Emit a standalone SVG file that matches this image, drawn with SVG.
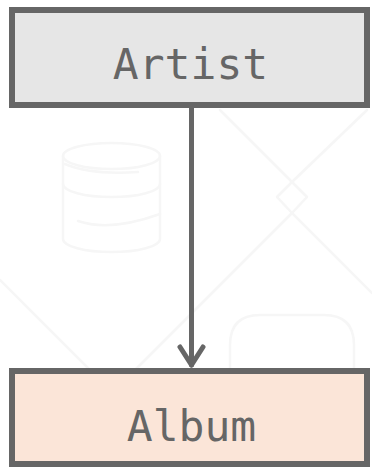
<svg xmlns="http://www.w3.org/2000/svg" width="372" height="467" viewBox="0 0 372 467">
  <style>
    .bg { fill: none; stroke: #f6f6f6; stroke-width: 2.5; stroke-linecap: round; stroke-linejoin: round; }
    .box { stroke: #666666; stroke-width: 6; }
    .label { font-family: "DejaVu Sans Mono", "Liberation Mono", monospace; font-size: 43px; fill: #666666; text-anchor: middle; }
    .edge { fill: none; stroke: #666666; stroke-width: 5; stroke-linecap: round; stroke-linejoin: round; }
  </style>
  <rect width="372" height="467" fill="#ffffff"/>

  <!-- faint background decoration -->
  <g id="backdrop">
    <!-- database cylinder -->
    <ellipse class="bg" cx="111.5" cy="156" rx="48.5" ry="13"/>
    <path class="bg" d="M63 156 V239 A48.5 13 0 0 0 160 239 V156"/>
    <path class="bg" d="M63 184 A48.5 13 0 0 0 160 184"/>
    <path class="bg" d="M65 164 Q90 175 138 172"/>
    <path class="bg" d="M78 221 Q110 232 160 214"/>
    <!-- crossing lines with small diamond -->
    <path class="bg" d="M220 110 L292 182 L367 110"/>
    <path class="bg" d="M292 182 L307 197 L292 213 L277 197 Z"/>
    <path class="bg" d="M292 213 L110 395"/>
    <path class="bg" d="M292 213 L372 293"/>
    <path class="bg" d="M0 280 L100 380"/>
    <!-- rounded panel -->
    <path class="bg" d="M230 372 V345 Q230 315 260 315 H324 Q354 315 354 345 V372"/>
  </g>

  <g id="connectors">
    <line class="edge" x1="191.5" y1="108" x2="191.5" y2="365"/>
    <polyline class="edge" points="180,347 191.5,365 203,347"/>
  </g>

  <g id="artist">
    <rect class="box" x="12" y="10" width="355" height="95" fill="#e6e6e6"/>
    <text class="label" x="190.5" y="79">Artist</text>
  </g>

  <g id="album">
    <rect class="box" x="12" y="371" width="355" height="93" fill="#fbe5d8"/>
    <text class="label" x="191.5" y="441">Album</text>
  </g>
</svg>
